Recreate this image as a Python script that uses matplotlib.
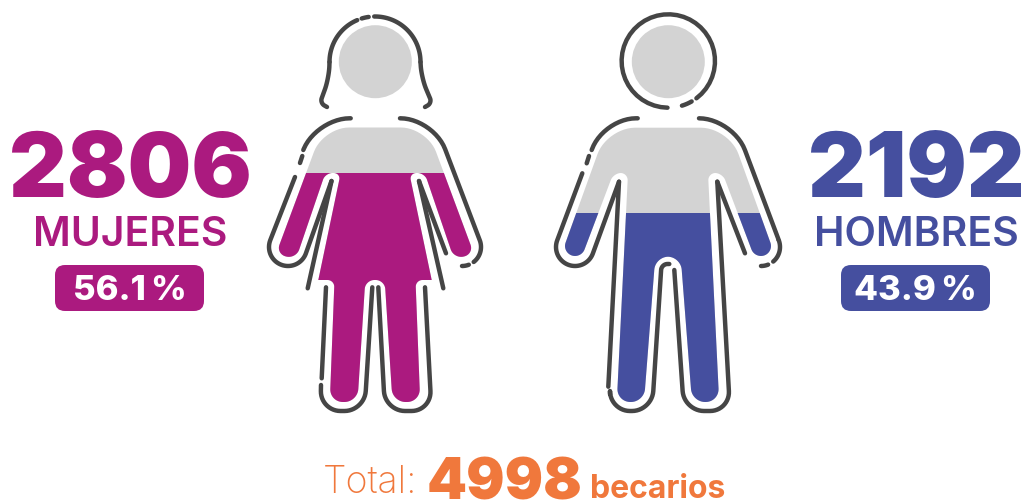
import numpy as np
import matplotlib
matplotlib.use("Agg")
import matplotlib.pyplot as plt
from matplotlib.path import Path
from matplotlib.patches import Circle, FancyBboxPatch, PathPatch, Rectangle

# data
labels = ["MUJERES", "HOMBRES"]
counts = [2806, 2192]
percents = ["56.1\u2009%", "43.9\u2009%"]
total = 4998
fill_tops = [173, 213]  # level of the colour inside each figure, in pixels

PURPLE = "#AB1A7F"
BLUE = "#454F9F"
GRAY = "#D3D3D3"
DARK = "#454545"
ORANGE = "#F0783C"
FONT = "Inter"
LW = 3.2


# polyline with rounded corners, each point is (x, y, tangent length)
def rounded(pts, closed=False, n=14):
    pts = [tuple(p) + (0,) * (3 - len(p)) for p in pts]
    out = []
    m = len(pts)
    for i, (x, y, t) in enumerate(pts):
        p = np.array([x, y], dtype=float)
        if t == 0 or (not closed and i in (0, m - 1)):
            out.append(p)
            continue
        a = np.array(pts[(i - 1) % m][:2], dtype=float)
        b = np.array(pts[(i + 1) % m][:2], dtype=float)
        p0 = p + (a - p) / np.linalg.norm(a - p) * t
        p3 = p + (b - p) / np.linalg.norm(b - p) * t
        c1 = p0 + 0.55 * (p - p0)
        c2 = p3 + 0.55 * (p - p3)
        for s in np.linspace(0, 1, n):
            out.append((1 - s)**3 * p0 + 3 * (1 - s)**2 * s * c1 + 3 * (1 - s) * s**2 * c2 + s**3 * p3)
    return np.array(out)


def arc(c, r, a0, a1):
    ang = np.radians(np.linspace(a0, a1, 40))
    return np.column_stack([c[0] + r * np.cos(ang), c[1] + r * np.sin(ang)])


def mirrored(half, cx):
    other = [(2 * cx - x, y, t) for x, y, t in reversed(half[1:-1])]
    return half + other


def draw(ax, xy):
    ax.plot(xy[:, 0], xy[:, 1], color=DARK, lw=LW, solid_capstyle="round", solid_joinstyle="round", zorder=5)


def stroke(ax, pts):
    draw(ax, rounded(pts))


def body(ax, half, cx, fill_top, color):
    xy = rounded(mirrored(half, cx), closed=True)
    shape = PathPatch(Path(np.vstack([xy, xy[0]]), closed=True), fc=GRAY, ec="none", zorder=2)
    ax.add_patch(shape)
    level = Rectangle((cx - 130, fill_top), 260, 300, fc=color, ec="none", zorder=3)
    ax.add_patch(level)
    level.set_clip_path(shape)


fig = plt.figure(figsize=(10.25, 5), dpi=100)
ax = fig.add_axes([0, 0, 1, 1])
ax.set_xlim(0, 1025)
ax.set_ylim(500, 0)
ax.axis("off")

# woman
woman = [(375, 127.5, 0), (323, 127.5, 26), (276, 254, 10), (296, 259, 10),
         (325.3, 173, 7), (340.7, 173, 7), (318.3, 280, 0), (334.5, 280, 7),
         (329.8, 402, 13), (357.5, 402, 13), (365.3, 280, 9), (375, 280, 0)]
body(ax, woman, 375, fill_tops[0], PURPLE)
ax.add_patch(Circle((375.3, 61.7), 36.5, fc=GRAY, ec="none", zorder=2))

hair_c = (375, 62)
draw(ax, arc(hair_c, 45.5, 180, 247))
draw(ax, arc(hair_c, 45.5, 253, 262))
draw(ax, arc(hair_c, 45.5, 269, 360))
stroke(ax, [(329.5, 62), (329, 78, 12), (320, 103, 5), (327, 107)])
stroke(ax, [(420.5, 62), (421.5, 78, 12), (432, 103, 5), (425, 107)])
stroke(ax, [(350.7, 118.3), (316.6, 118.3, 33), (303.3, 150)])
stroke(ax, [(302.3, 156), (300, 163)])
draw(ax, np.vstack([[(295, 177)], arc((288, 247), 19, 201, 21), [(331.5, 181)]]))
stroke(ax, [(331.5, 181), (307.7, 288.3)])
stroke(ax, [(326, 287.3), (321.7, 378.3)])
stroke(ax, [(321, 385), (320.5, 411, 20), (364.5, 411, 20), (372.3, 287.3)])
stroke(ax, [(378.3, 287.3), (385, 411, 20), (431.5, 411, 20), (425, 287.3)])
stroke(ax, [(419, 181), (443.3, 288.3)])
stroke(ax, [(419, 181), (446, 253.3)])
draw(ax, np.vstack([rounded([(400, 118.3), (433.4, 118.3, 33), (479.7, 240.1)]), arc((462, 247), 19, -21, 52)]))
draw(ax, arc((462, 247), 19, 69, 90))

# man
man = [(668, 127.7, 0), (607, 127.7, 28), (562.2, 252, 10), (581, 258.8, 10),
       (613.5, 173, 7.5), (628, 173, 7.5), (616.8, 402, 13.5), (644, 402, 13),
       (655.3, 256.7, 13), (668, 256.7, 0)]
body(ax, man, 668, fill_tops[1], BLUE)
ax.add_patch(Circle((668.3, 61.7), 36.5, fc=GRAY, ec="none", zorder=2))

ring_c = (668.3, 61)
draw(ax, arc(ring_c, 46.7, 53, -269))
draw(ax, arc(ring_c, 46.7, 60, 73))

stroke(ax, [(637.7, 118.3), (603, 118.3, 33), (591.7, 150)])
stroke(ax, [(589, 156), (586.7, 163.3)])
draw(ax, np.vstack([[(582.3, 173.3)], arc((575, 247), 19, 200, 20), [(619, 181.7)]]))
stroke(ax, [(619, 181.7), (608.3, 386.7)])
stroke(ax, [(610, 394.3), (610, 411, 20), (652, 411, 20), (661.5, 264, 6), (669.3, 264)])
stroke(ax, [(674.3, 270), (684, 411, 20), (730, 411, 20), (717.3, 181.7)])
stroke(ax, [(717.3, 181.7), (745, 253.3)])
draw(ax, np.vstack([rounded([(699, 118.3), (733, 118.3, 34), (778.9, 240.5)]), arc((761, 247), 19, -20, 50)]))
draw(ax, arc((761, 247), 19, 68, 90))

# numbers and labels
centers = [130, 916]
badges = [55, 841]
colors = [PURPLE, BLUE]
for i in range(2):
    ax.text(centers[i], 197, str(counts[i]), color=colors[i], fontsize=64.5, family=FONT, fontweight="black",
            ha="center", va="baseline")
    ax.text(centers[i], 246, labels[i], color=colors[i], fontsize=29.5, family=FONT, fontweight="semibold",
            ha="center", va="baseline")
    ax.add_patch(FancyBboxPatch((badges[i], 265), 149, 46, boxstyle="round,pad=0,rounding_size=10",
                                fc=colors[i], ec="none"))
    ax.text(badges[i] + 74.5, 300, percents[i], color="white", fontsize=25, family=FONT, fontweight="extra bold",
            ha="center", va="baseline")

# total line
ax.text(323, 493, "Total:", color=ORANGE, fontsize=27, family=FONT, fontweight="light", ha="left", va="baseline")
ax.text(427, 499, str(total), color=ORANGE, fontsize=41, family=FONT, fontweight="black", ha="left", va="baseline")
ax.text(590, 498, "becarios", color=ORANGE, fontsize=23, family=FONT, fontweight="bold", ha="left", va="baseline")

fig.savefig("out.png", dpi=100)
